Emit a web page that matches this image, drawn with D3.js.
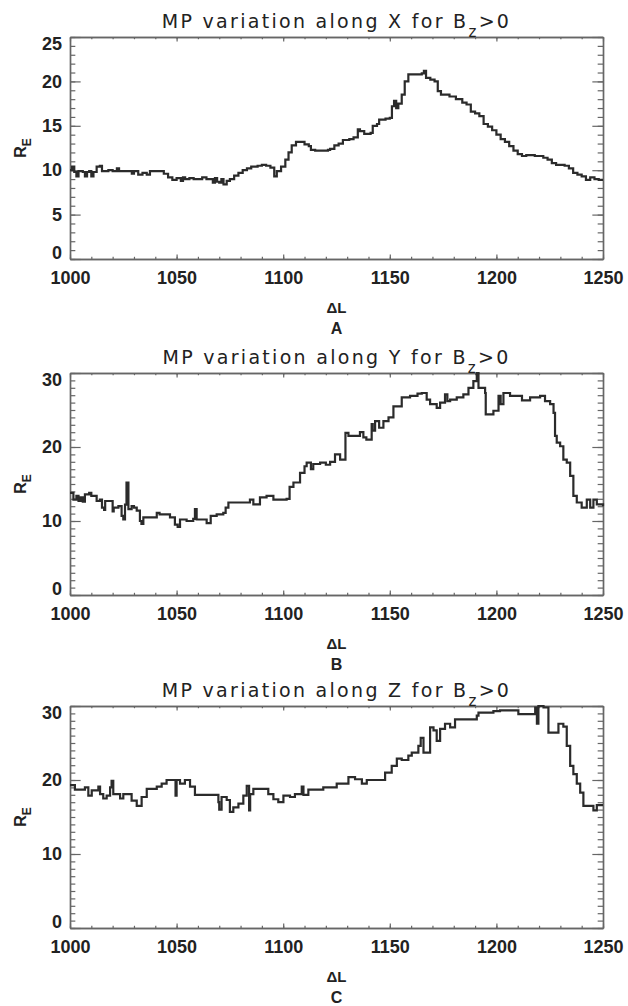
<!DOCTYPE html>
<html>
<head>
<meta charset="utf-8">
<script src="https://cdn.jsdelivr.net/npm/d3@7"></script>
<style>
  body { margin: 0; background: #fff; }
  svg { display: block; }
  .tick text { font-family: "Liberation Sans", Arial, sans-serif; font-weight: bold; font-size: 18px; fill: #222; }
  .title { font-family: "DejaVu Sans", sans-serif; font-size: 19px; letter-spacing: 2.3px; fill: #222; }
  .lbl { font-family: "Liberation Sans", Arial, sans-serif; font-weight: bold; fill: #222; }
</style>
</head>
<body>
<svg id="chart" width="628" height="1006"></svg>
<script>
// ΔL values (x) and R_E values (y)
const xX = [1000,1001,1002,1003,1004,1006,1007,1008,1009,1010,1011,1012.5,1014,1015,1018,1020,1022,1023,1026,1029,1030,1032,1034,1036,1037.5,1040,1042,1044,1046,1048,1050,1052,1053,1054,1056,1058,1060,1062,1064,1066,1067,1068,1069,1070,1071,1072,1073.5,1075,1077,1079,1081,1083,1085,1088,1090,1092,1094,1095.8,1097,1099,1101,1102.5,1104,1106,1108,1110,1112,1113,1115,1118,1121,1122,1124,1126,1128,1131,1133,1135,1136,1138,1141,1142,1144,1145,1148,1150,1151,1152,1153,1154,1155.6,1157,1158.7,1162,1165,1166,1167,1169,1171,1172.5,1174,1178,1181,1184,1186,1188,1190,1192,1194,1196,1198,1200,1202,1204,1206,1208,1210,1212,1214,1218,1222,1224,1226,1228,1232,1234,1236,1238,1240,1242,1244,1246,1248,1250]
const yX = [10.0,10.4,9.8,9.3,9.9,9.8,9.3,9.8,9.9,9.3,9.8,10.4,10.5,9.9,10.0,9.9,10.2,9.9,9.9,9.6,9.9,9.5,9.7,9.5,9.9,9.9,9.9,9.6,9.2,8.9,9.1,8.8,9.2,9.0,9.1,9.0,9.0,9.2,9.0,9.0,8.6,9.1,8.7,8.6,9.0,8.4,8.8,9.0,9.4,9.7,10.0,10.2,10.4,10.5,10.6,10.5,10.3,9.3,9.9,10.4,11.2,12.0,12.8,13.2,13.2,12.9,12.7,12.3,12.2,12.2,12.3,12.4,12.8,13.0,13.4,13.5,13.7,14.6,14.4,14.1,14.2,15.0,15.2,15.7,15.8,15.9,17.2,17.8,17.0,17.5,18.5,20.0,20.8,20.8,20.9,21.2,20.4,20.2,20.0,18.9,18.5,18.3,18.0,17.6,17.4,16.6,16.4,16.1,15.2,14.9,14.5,14.0,13.5,13.2,12.7,12.2,11.8,11.6,11.7,11.6,11.4,11.2,10.8,10.6,10.5,10.2,9.7,9.5,9.3,8.9,9.2,9.0,8.9,8.9]

const xY = [1000,1001.6,1003,1004,1005,1006,1007,1009,1010,1012.5,1014,1015,1016,1016.5,1019,1020,1020.5,1022.7,1024.2,1025,1025.8,1026.5,1027.4,1028.9,1030,1031.3,1032.8,1033.5,1034.4,1040.7,1042,1046.9,1049.2,1050.5,1051.6,1054.7,1057.8,1058.6,1059.4,1063,1064.1,1066,1068.8,1071.9,1073,1074.3,1084.4,1086,1089.1,1092.2,1095.4,1101.6,1103,1104.8,1107.9,1110,1111,1113,1114.1,1117.3,1120,1122,1124.3,1126.7,1129,1129.2,1130.6,1133.7,1136,1137.6,1139,1141.5,1142,1143.1,1145,1147,1149.4,1151.7,1155.6,1159.5,1163,1165,1167.3,1168.9,1172,1173.6,1175.9,1177,1178.3,1181.4,1184.5,1186.9,1189.2,1190.8,1191.6,1194.7,1195,1198.6,1201,1202,1203.3,1206.4,1209.6,1212,1215.8,1220.5,1222.8,1225.2,1226.8,1227.5,1228.3,1229.9,1231.4,1233,1234.6,1236.1,1237.7,1240,1242.4,1244,1245.5,1247.1,1250]
const yY = [13.8,12.9,13.4,12.7,13.2,12.6,13.6,13.8,13.4,12.7,12.9,11.8,11.5,12.7,12.7,11.3,11.8,12.0,10.7,10.2,12.2,15.2,11.6,12.0,11.8,11.4,10.0,9.6,10.5,11.1,10.9,10.5,9.5,9.2,10.2,10.0,10.3,11.6,10.2,10.2,9.7,10.7,10.9,11.1,11.8,12.5,12.9,12.25,13.2,13.4,12.9,13.0,14.6,15.2,16.5,17.4,17.9,17.0,17.7,17.9,17.6,18.0,19.0,18.3,18.3,21.9,21.5,21.5,22.0,21.3,21.0,23.1,22.2,23.5,22.6,23.5,24.0,25.5,26.7,26.9,27.2,27.3,26.4,25.8,25.3,26.0,27.1,26.2,26.4,26.7,27.1,28.0,28.9,30.0,28.0,27.3,24.4,24.9,26.9,25.8,27.3,26.9,26.9,26.3,26.7,26.9,26.2,25.8,24.6,21.5,20.6,20.1,18.3,17.9,16.1,13.4,12.5,11.8,12.9,11.8,12.9,12.25,12.0]

const xZ = [1000,1002.3,1007,1008.6,1010.2,1013.3,1014.1,1015.6,1017.2,1018.8,1019.5,1020.3,1023.5,1025,1028.9,1031.3,1033.6,1036,1040.7,1043,1045.3,1049.2,1049.5,1050,1051.6,1053.9,1056.3,1058.6,1069.6,1070,1071.1,1073.5,1075,1076.6,1079,1081.3,1082.9,1084,1084.5,1086,1093,1095.4,1097.7,1100.1,1103.2,1105.5,1108.7,1109.5,1111.8,1118.8,1125.1,1128.3,1130.6,1133.7,1136.9,1139.2,1147.8,1150.9,1153.3,1155.6,1158.7,1160.3,1163.4,1164.5,1165.8,1168.9,1170.5,1172,1173.6,1175.9,1178.3,1180.6,1190.8,1191.6,1198.6,1201.7,1210.3,1218.2,1219,1219.7,1222.1,1224.4,1229.1,1231.4,1233,1234.6,1236.1,1237.7,1239.3,1240.8,1245.5,1247.1,1250]
const yZ = [19.3,18.7,19.0,17.9,18.6,19.1,18.1,17.5,17.9,19.0,19.9,18.1,17.5,18.1,17.2,16.5,17.7,18.8,19.1,19.5,20.0,20.0,17.9,20.0,19.5,20.0,19.1,18.0,17.0,16.0,17.7,17.3,15.7,16.3,16.8,17.9,19.2,15.9,18.1,18.8,18.1,17.4,17.0,17.9,17.7,18.1,19.1,18.0,18.7,19.0,19.5,19.5,20.4,20.1,19.5,20.0,21.0,21.9,22.9,22.7,23.3,23.7,24.6,25.7,23.7,27.1,26.7,25.3,26.9,27.6,27.1,28.2,28.7,29.1,29.3,29.4,28.9,29.8,27.6,30.0,29.8,26.4,27.6,27.2,24.6,21.9,20.8,19.5,18.3,16.5,15.9,16.6,16.6]

const xMajor = [1000, 1050, 1100, 1150, 1200, 1250]
const xMinor = d3.range(1000, 1251, 10)

const titles = ['X', 'Y', 'Z']
const letters = ['A', 'B', 'C']

const panels = [
    { xs: xX, ys: yX, yMax: 25, yStep: 5, top: 37, bottom: 259 },
    { xs: xY, ys: yY, yMax: 30, yStep: 10, top: 373, bottom: 595 },
    { xs: xZ, ys: yZ, yMax: 30, yStep: 10, top: 706, bottom: 928 },
]

const left = 70
const right = 603
const svg = d3.select('#chart')
const axisColor = '#666'

const xScale = d3.scaleLinear().domain([1000, 1250]).range([left, right])

panels.forEach((p, i) => {
    const g = svg.append('g')
    const yScale = d3.scaleLinear().domain([0, p.yMax]).range([p.bottom, p.top])
    const yMajor = d3.range(0, p.yMax + 0.01, p.yStep)
    const yMinor = d3.range(0, p.yMax + 0.01, 1)
    const xLen = (p.bottom - p.top) * 0.02
    const yLen = (right - left) * 0.02

    const styleAxis = (sel) => {
        sel.selectAll('path.domain').attr('stroke', axisColor).attr('stroke-width', 1.4)
        sel.selectAll('.tick line').attr('stroke', axisColor).attr('stroke-width', 1.2)
    }

    // minor ticks
    g.append('g').attr('transform', `translate(0,${p.bottom})`)
        .call(d3.axisBottom(xScale).tickValues(xMinor).tickSize(-xLen / 2).tickSizeOuter(0).tickFormat(''))
        .call(styleAxis)
    g.append('g').attr('transform', `translate(0,${p.top})`)
        .call(d3.axisTop(xScale).tickValues(xMinor).tickSize(-xLen / 2).tickSizeOuter(0).tickFormat(''))
        .call(styleAxis)
    g.append('g').attr('transform', `translate(${left},0)`)
        .call(d3.axisLeft(yScale).tickValues(yMinor).tickSize(-yLen / 2).tickSizeOuter(0).tickFormat(''))
        .call(styleAxis)
    g.append('g').attr('transform', `translate(${right},0)`)
        .call(d3.axisRight(yScale).tickValues(yMinor).tickSize(-yLen / 2).tickSizeOuter(0).tickFormat(''))
        .call(styleAxis)

    // major ticks
    g.append('g').attr('transform', `translate(0,${p.bottom})`)
        .call(d3.axisBottom(xScale).tickValues(xMajor).tickSize(-xLen).tickSizeOuter(0).tickPadding(12).tickFormat(d3.format('d')))
        .call(styleAxis)
    g.append('g').attr('transform', `translate(0,${p.top})`)
        .call(d3.axisTop(xScale).tickValues(xMajor).tickSize(-xLen).tickSizeOuter(0).tickFormat(''))
        .call(styleAxis)
    g.append('g').attr('transform', `translate(${left},0)`)
        .call(d3.axisLeft(yScale).tickValues(yMajor).tickSize(-yLen).tickSizeOuter(0).tickPadding(8).tickFormat(d3.format('d')))
        .call(styleAxis)
        .call((a) => a.selectAll('.tick text')
            .attr('dy', (d) => d === 0 ? '-0.02em' : (d === p.yMax ? '0.7em' : '0.32em')))
    g.append('g').attr('transform', `translate(${right},0)`)
        .call(d3.axisRight(yScale).tickValues(yMajor).tickSize(-yLen).tickSizeOuter(0).tickFormat(''))
        .call(styleAxis)

    // data line
    const line = d3.line()
        .x((d) => xScale(d[0]))
        .y((d) => yScale(d[1]))
        .curve(d3.curveStepAfter)
    g.append('path')
        .datum(p.xs.map((x, k) => [x, p.ys[k]]))
        .attr('fill', 'none')
        .attr('stroke', '#2b2b2b')
        .attr('stroke-width', 2.2)
        .attr('stroke-linejoin', 'miter')
        .attr('d', line)

    // title
    const cx = (left + right) / 2
    const t = g.append('text').attr('class', 'title')
        .attr('x', cx).attr('y', p.top - 9).attr('text-anchor', 'middle')
    t.append('tspan').text(`MP variation along ${titles[i]} for B`)
    t.append('tspan').attr('dy', 9).attr('font-size', 15).text('z')
    t.append('tspan').attr('dy', -9).text('>0')

    // y label
    const yl = g.append('text').attr('class', 'lbl')
        .attr('transform', `translate(26,${(p.top + p.bottom) / 2}) rotate(-90)`)
        .attr('text-anchor', 'middle').attr('font-size', 16)
    yl.append('tspan').text('R')
    yl.append('tspan').attr('dy', 5).attr('font-size', 12).text('E')

    // x label and panel letter
    g.append('text').attr('class', 'lbl')
        .attr('x', cx).attr('y', p.bottom + 54).attr('text-anchor', 'middle').attr('font-size', 15)
        .text('ΔL')
    g.append('text').attr('class', 'lbl')
        .attr('x', cx).attr('y', p.bottom + 75).attr('text-anchor', 'middle').attr('font-size', 16)
        .text(letters[i])
})
</script>
</body>
</html>
